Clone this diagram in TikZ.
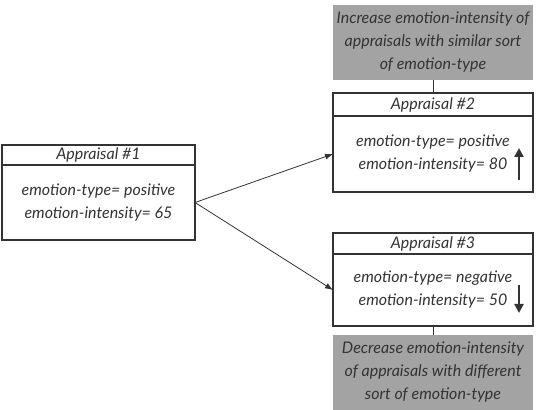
\documentclass[tikz,border=0pt]{standalone}
\usepackage{xcolor}
\usepackage{fontspec}
\usepackage{tikz}
\usetikzlibrary{positioning,calc,arrows.meta}
\newfontfamily\boxfont{Lato}
\definecolor{ink}{HTML}{333333}
\definecolor{shade}{HTML}{A3A3A3}

\begin{document}
\begin{tikzpicture}[x=1pt,y=1pt,
      every node/.style={text=ink,font=\boxfont\itshape\fontsize{16}{23}\selectfont},
      head/.style={rectangle,draw=ink,line width=1.1pt,outer sep=0pt,minimum width=200pt,minimum height=22pt,inner sep=0pt,align=center},
      body/.style={rectangle,draw=ink,line width=1.1pt,outer sep=0pt,minimum width=200pt,minimum height=75pt,inner sep=0pt,align=center},
      note/.style={rectangle,fill=shade,outer sep=0pt,minimum width=200pt,minimum height=75pt,inner sep=0pt,align=center},
      link/.style={draw=ink,line width=0.8pt,-{Latex[length=8pt,width=6pt]}},
      updown/.style={draw=ink,line width=2.4pt,-{Triangle[length=9pt,width=9pt]}}
    ]
    \useasboundingbox (0,0) rectangle (536,410);

    \node[head,minimum width=193pt,minimum height=20pt] (a1t) at (98.5,255) {Appraisal \#1};
    \node[body,minimum width=193pt,below=0pt of a1t] (a1b) {emotion-type= positive\\emotion-intensity= 65};

    \node[head,minimum height=23pt] (a2t) at (433,305.5) {Appraisal \#2};
    \node[body,minimum height=76pt,below=0pt of a2t] (a2b) {emotion-type= positive\\emotion-intensity= 80\hspace{12pt}};
    \node[note,above=13pt of a2t] (inc) {Increase emotion-intensity of\\appraisals with similar sort\\of emotion-type};

    \node[head,minimum height=21pt] (a3t) at (433,166.5) {Appraisal \#3};
    \node[body,minimum height=72pt,below=0pt of a3t] (a3b) {emotion-type= negative\\emotion-intensity= 50\hspace{12pt}};
    \node[note,below=9pt of a3b] (dec) {Decrease emotion-intensity\\of appraisals with different\\sort of emotion-type};

    \draw[link] (a1b.east) -- (a2b.west);
    \draw[link] (a1b.east) -- (a3b.west);
    \draw[draw=ink,line width=0.8pt] (inc.south) -- (a2t.north);
    \draw[draw=ink,line width=0.8pt] (a3b.south) -- (dec.north);

    % rise / fall marks
    \draw[updown] ($(a2b.east)+(-14,-26)$) -- ++(0,32);
    \draw[updown] ($(a3b.east)+(-14,5)$) -- ++(0,-28);

  \end{tikzpicture}
\end{document}
